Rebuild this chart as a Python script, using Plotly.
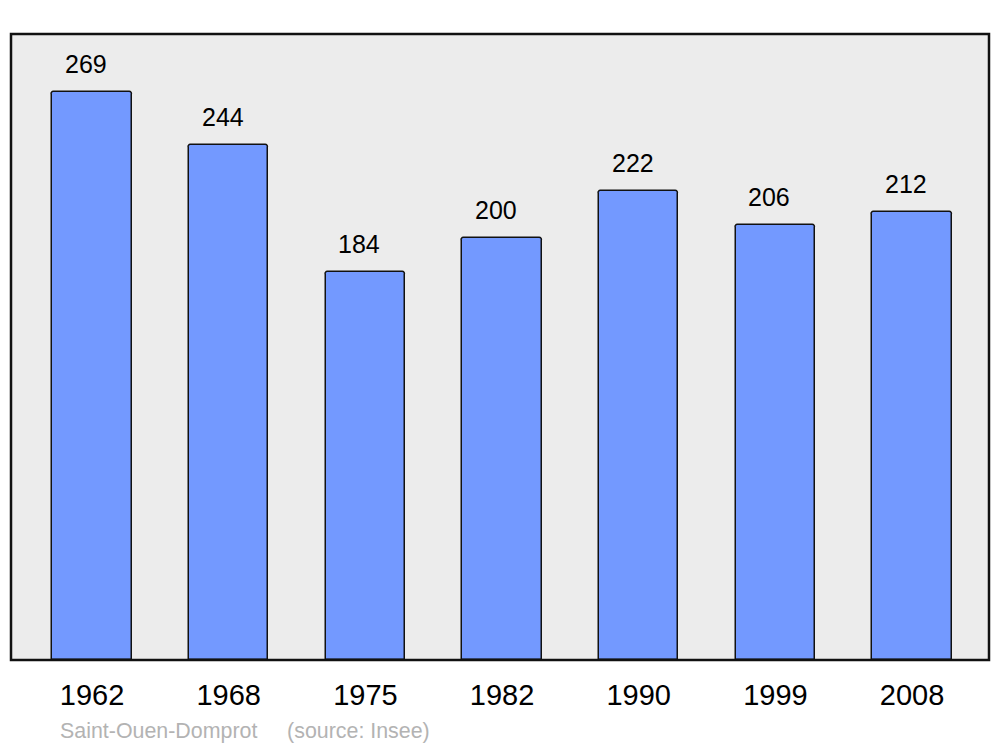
import plotly.graph_objects as go

years = ['1962', '1968', '1975', '1982', '1990', '1999', '2008']
population = [269, 244, 184, 200, 222, 206, 212]
commune = 'Saint-Ouen-Domprot'
source_note = '(source: Insee)'

_BAR_COLOR = '#7399ff'
_BG = '#ececec'
_FONT = 'Liberation Sans, Arial, sans-serif'

fig = go.Figure()

fig.add_trace(go.Bar(
    x=years, y=population,
    width=0.58,
    marker=dict(color=_BAR_COLOR, line=dict(color='#111111', width=1.5), cornerradius=3),
    hoverinfo='x+y',
    showlegend=False,
))

# Wert über jedem Balken (x als Kategorie-Index, sonst wird '1962' als Zahl gelesen)
for i, val in enumerate(population):
    fig.add_annotation(
        x=i, y=val, text=str(val), showarrow=False,
        yshift=28, xshift=-6, font=dict(size=25, color='#000000', family=_FONT),
    )

fig.add_annotation(
    xref='paper', yref='paper', x=0.0485, y=-0.113, xanchor='left', yanchor='middle',
    text=commune + '&nbsp;&nbsp;&nbsp;&nbsp;&nbsp;' + source_note, showarrow=False,
    font=dict(size=21.4, color='#b3b3b3', family=_FONT),
)

# Rahmen um den Plotbereich
fig.add_shape(
    type='rect', xref='paper', yref='paper', x0=0, x1=1, y0=0, y1=1,
    line=dict(color='#111111', width=2.5), layer='above',
)

fig.update_layout(
    width=1000, height=747,
    margin=dict(l=11, r=11, t=34, b=87),
    paper_bgcolor='#ffffff',
    plot_bgcolor=_BG,
    font=dict(family=_FONT, color='#000000'),
    bargap=0,
)
fig.update_xaxes(
    type='category', range=[-0.593, 6.563],
    showgrid=False, zeroline=False, showline=False,
    tickfont=dict(size=29), ticks='', ticklabelstandoff=15,
)
fig.update_yaxes(
    range=[0, 296.5], showgrid=False, zeroline=False,
    showticklabels=False, showline=False,
)

fig.write_html('out.html', config={'displayModeBar': False},
               post_script="document.body.style.margin='0';")
